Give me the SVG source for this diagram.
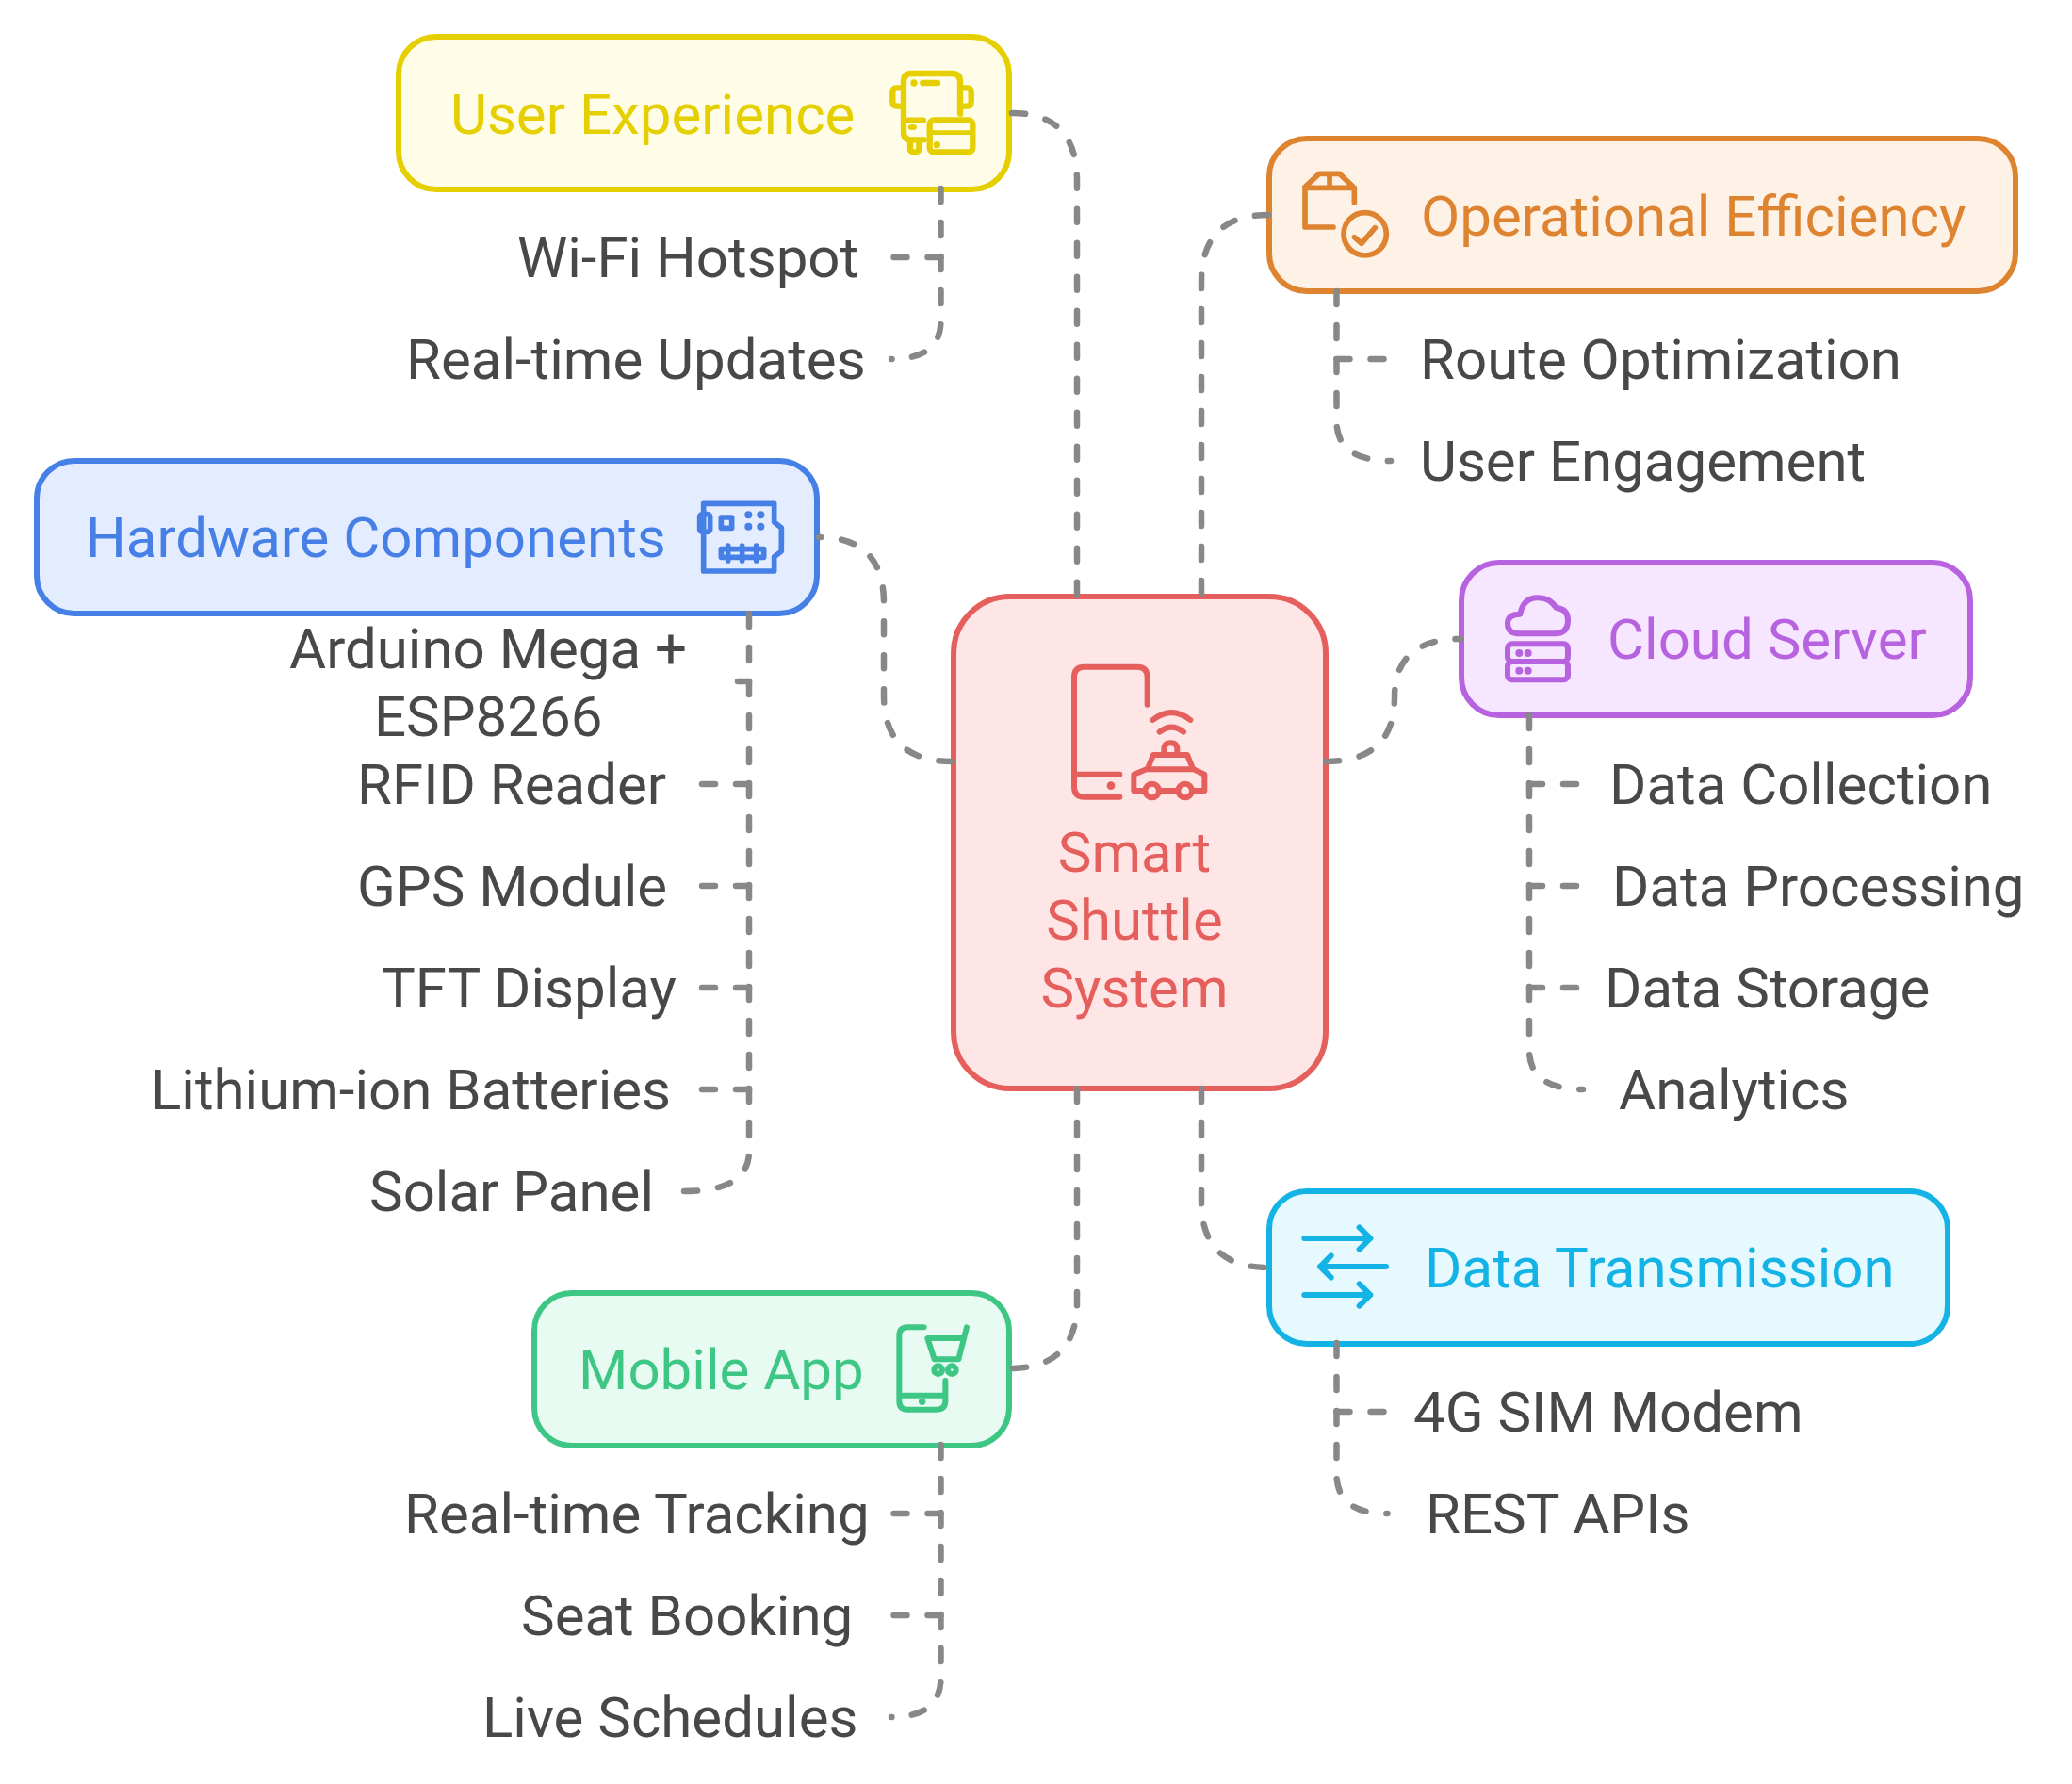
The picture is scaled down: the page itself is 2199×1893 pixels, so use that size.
<svg xmlns="http://www.w3.org/2000/svg" width="2199" height="1893" viewBox="0 0 2199 1893">
<style>
text{font-family:Roboto,"Liberation Sans",sans-serif;font-size:60px}
.box{stroke-width:6}
.ic{fill:none;stroke-width:17;stroke-linecap:round;stroke-linejoin:round}
.c path{fill:none;stroke:#888;stroke-width:6.5;stroke-linecap:round;stroke-dasharray:14 22}
#ux .box{fill:#fffde8;stroke:#e5cf00}#ux text{fill:#e5cf00}#ux .ic{stroke:#e5cf00;stroke-width:19}#ux .f{fill:#e5cf00}
#ops .box{fill:#fef1e6;stroke:#de8431}#ops text{fill:#de8431}#ops .ic{stroke:#de8431}
#hw .box{fill:#e4edff;stroke:#4680e6}#hw text{fill:#4680e6}#hw .ic{stroke:#4680e6}#hw .f{fill:#4680e6}
#ctr .box{fill:#ffe6e6;stroke:#e55f5c}#ctr text{fill:#e55f5c}#ctr .ic{stroke:#e55f5c;stroke-width:18}#ctr .f{fill:#e55f5c}
#cloud .box{fill:#f6e6ff;stroke:#b763e0}#cloud text{fill:#b763e0}#cloud .ic{stroke:#b763e0;stroke-width:18}#cloud .f{fill:#b763e0}
#dt .box{fill:#e6f9ff;stroke:#14b3e6}#dt text{fill:#14b3e6}#dt .ic{stroke:#14b3e6;stroke-width:18}
#mob .box{fill:#e8fbf3;stroke:#3ec685}#mob text{fill:#3ec685}#mob .ic{stroke:#3ec685;stroke-width:18}#mob .f{fill:#3ec685}
#ux text.l,#ops text.l,#hw text.l,#cloud text.l,#dt text.l,#mob text.l{fill:#484848}
</style>
<g id="ctr">
<rect class="box" x="1012" y="633" width="395" height="522" rx="60"/>
<g transform="translate(1100 680) scale(.33333)" class="ic">
<path d="M353 203V115Q353 83 321 83H152Q120 83 120 115V465Q120 497 152 497H265M120 425H265M370 252Q430 205 490 252M392 290Q430 260 468 290M406 358V345Q406 325 427 325Q448 325 448 345V358M355 405L372 363H480L497 405M345 477H310V425L350 409H500L535 425V477H497M395 477H445"/>
<circle cx="368" cy="477" r="22"/><circle cx="473" cy="477" r="22"/>
<circle class="f" cx="237" cy="461" r="13" stroke="none"/>
</g>
<text x="1204" y="924.5" text-anchor="middle">Smart</text>
<text x="1204" y="996.5" text-anchor="middle">Shuttle</text>
<text x="1204" y="1068.5" text-anchor="middle">System</text>
</g>
<g id="ux">
<rect class="box" x="423" y="39" width="648" height="162" rx="40"/>
<text x="478" y="141.5">User Experience</text>
<g transform="translate(930 60) scale(.33333)" class="ic">
<path d="M267 182V80Q267 54 241 54H113Q87 54 87 80V240Q87 265 110 265H152M87 203H150M87 100H65Q52 100 52 113V145Q52 158 65 158H87M267 100H290Q302 100 302 113V145Q302 158 290 158H267M148 84H195M108 268V295Q108 304 122 304Q136 304 136 295V268"/>
<rect x="170" y="202" width="137" height="102" rx="14"/>
<path d="M170 242H307" stroke-width="14"/>
<circle class="f" cx="120" cy="84" r="11" stroke="none"/><ellipse class="f" cx="115" cy="225" rx="14" ry="9" stroke="none"/><circle class="f" cx="193" cy="281" r="11" stroke="none"/>
</g>
<text class="l" x="549" y="293.5">Wi-Fi Hotspot</text>
<text class="l" x="431" y="401.5">Real-time Updates</text>
</g>
<g id="ops">
<rect class="box" x="1347" y="147" width="792" height="162" rx="40"/>
<g transform="translate(1330 130) scale(.33333)" class="ic">
<path d="M322 255V208H165V333H255M165 205L210 163H275L322 208M243 163V205M322 365L345 385L388 335"/>
<circle cx="356" cy="355" r="68"/>
</g>
<text x="1508" y="249.5">Operational Efficiency</text>
<text class="l" x="1507" y="401.5">Route Optimization</text>
<text class="l" x="1507" y="509.5">User Engagement</text>
</g>
<g id="hw">
<rect class="box" x="39" y="489" width="828" height="162" rx="40"/>
<text x="91" y="590.5">Hardware Components</text>
<g transform="translate(700 500) scale(.33333)" class="ic">
<path d="M140 103H365V162L388 180V255L365 272V318H140Z"/>
<rect x="128" y="137" width="33" height="56" rx="8"/>
<rect x="196" y="147" width="34" height="34"/>
<rect x="196" y="248" width="136" height="26"/>
<path d="M218 237V285M263 237V285M308 237V285"/>
<g class="f" stroke="none"><circle cx="283" cy="139" r="12"/><circle cx="322" cy="139" r="12"/><circle cx="283" cy="176" r="12"/><circle cx="322" cy="176" r="12"/></g>
</g>
<text class="l" x="307" y="709">Arduino Mega +</text>
<text class="l" x="397" y="780.5">ESP8266</text>
<text class="l" x="379" y="852.5">RFID Reader</text>
<text class="l" x="379" y="960.5">GPS Module</text>
<text class="l" x="405" y="1068.5">TFT Display</text>
<text class="l" x="160" y="1176.5">Lithium-ion Batteries</text>
<text class="l" x="392" y="1284.5">Solar Panel</text>
</g>
<g id="cloud">
<rect class="box" x="1551" y="597" width="540" height="162" rx="40"/>
<g transform="translate(1560 610) scale(.33333)" class="ic">
<path d="M160 187H270Q312 187 312 145Q312 108 275 105Q255 73 215 73Q170 73 160 125Q120 125 120 155Q120 187 160 187Z"/>
<rect x="120" y="220" width="192" height="56" rx="14"/><rect x="120" y="276" width="192" height="58" rx="14"/>
<g class="f" stroke="none"><circle cx="157" cy="249" r="12"/><circle cx="185" cy="249" r="12"/><circle cx="157" cy="305" r="12"/><circle cx="185" cy="305" r="12"/></g>
</g>
<text x="1706" y="699">Cloud Server</text>
<text class="l" x="1708" y="852.5">Data Collection</text>
<text class="l" x="1711" y="960.5">Data Processing</text>
<text class="l" x="1703" y="1068.5">Data Storage</text>
<text class="l" x="1718" y="1176.5">Analytics</text>
</g>
<g id="dt">
<rect class="box" x="1347" y="1264" width="720" height="162" rx="40"/>
<g transform="translate(1370 1280) scale(.33333)" class="ic">
<path d="M43 102H253M218 67L253 102L218 137M303 192H93M128 157L93 192L128 227M43 282H253M218 247L253 282L218 317"/>
</g>
<text x="1512" y="1365.5">Data Transmission</text>
<text class="l" x="1500" y="1518.5">4G SIM Modem</text>
<text class="l" x="1513" y="1626.5">REST APIs</text>
</g>
<g id="mob">
<rect class="box" x="567" y="1372" width="504" height="162" rx="40"/>
<text x="614" y="1473.5">Mobile App</text>
<g transform="translate(930 1390) scale(.33333)" class="ic">
<path d="M152 55H100Q73 55 73 82V290Q73 317 100 317H190Q220 317 220 290V225M73 272H220M288 55L262 157H185L163 90H270"/>
<circle cx="197" cy="191" r="13"/><circle cx="241" cy="191" r="13"/>
<circle class="f" cx="146" cy="292" r="11" stroke="none"/>
</g>
<text class="l" x="429" y="1626.5">Real-time Tracking</text>
<text class="l" x="553" y="1734.5">Seat Booking</text>
<text class="l" x="512" y="1842.5">Live Schedules</text>
</g>
<g id="connectors" class="c">
<path d="M1074 120Q1143 120 1143 192V632"/>
<path d="M1346 228Q1275 228 1275 299V632"/>
<path d="M869 570Q938 570 938 640V738Q938 808 1011 808" style="stroke-dashoffset:12"/>
<path d="M1407 808Q1480 808 1480 740Q1480 678 1550 678"/>
<path d="M1275 1155V1275Q1275 1345 1346 1345"/>
<path d="M1143 1155V1382Q1143 1452 1071 1452"/>
<path d="M998.5 200V340Q998.5 381 946 381M946 381h.5"/>
<path d="M998.5 273H946"/>
<path d="M1418.5 309V447Q1418.5 489 1476 489"/>
<path d="M1418.5 381H1474"/>
<path d="M795 651V1222Q795 1264 726 1264"/>
<path d="M795 723H783"/>
<path d="M795 832H742"/>
<path d="M795 940H742"/>
<path d="M795 1048H742"/>
<path d="M795 1156H742"/>
<path d="M1623 759V1114Q1623 1156 1680 1156"/>
<path d="M1623 832H1677"/>
<path d="M1623 940H1677"/>
<path d="M1623 1048H1677"/>
<path d="M1418.5 1425V1564Q1418.5 1606 1472 1606M1472 1606h.5"/>
<path d="M1418.5 1498H1474"/>
<path d="M998.5 1533V1780Q998.5 1822 946 1822M946 1822h.5"/>
<path d="M998.5 1606H946"/>
<path d="M998.5 1714H946"/>
</g>
</svg>
